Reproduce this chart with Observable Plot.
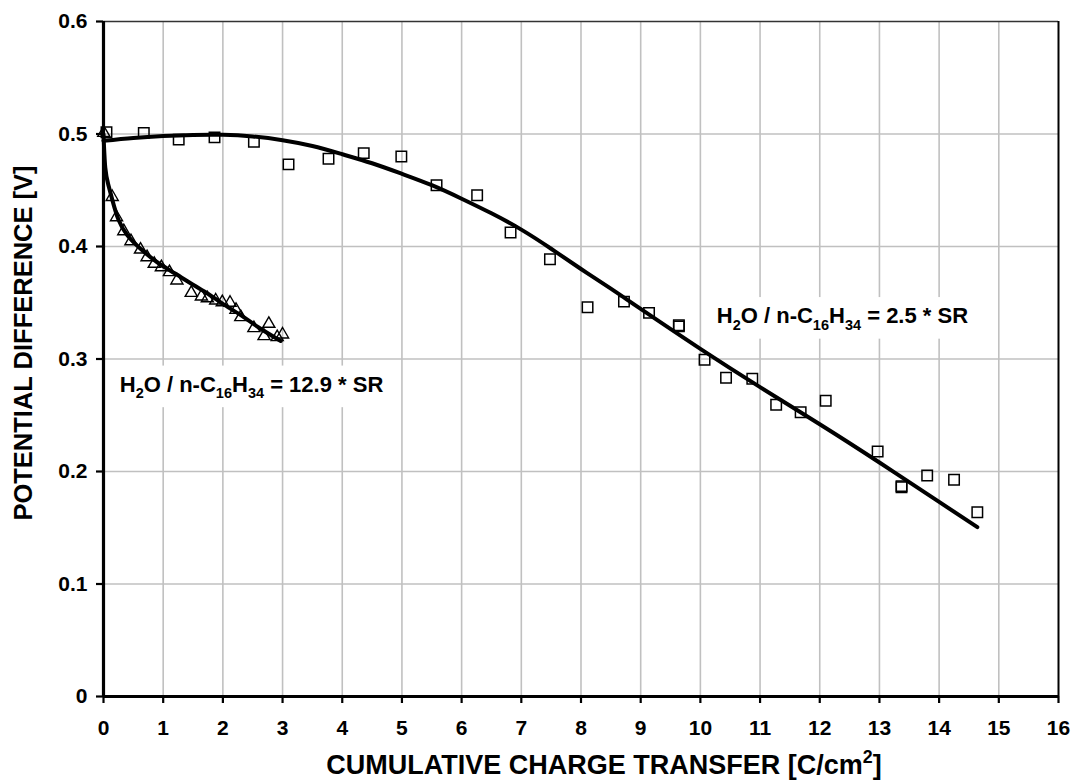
<!DOCTYPE html>
<html>
<head>
<meta charset="utf-8">
<script src="https://cdn.jsdelivr.net/npm/d3@7"></script>
<script src="https://cdn.jsdelivr.net/npm/@observablehq/plot@0.6"></script>
<style>
  html, body { margin: 0; padding: 0; background: #fff; }
</style>
</head>
<body>
<div id="chart"></div>
<script>
// ---- Data ----
// Series 1: H2O / n-C16H34 = 2.5 * SR (squares)
const sqX = [0.05, 0.675, 1.26, 1.86, 2.52, 3.10, 3.77, 4.36, 4.99, 5.58, 6.26, 6.82, 7.48, 8.11, 8.72, 9.14, 9.64, 9.64, 10.07, 10.43, 10.87, 11.27, 11.68, 12.10, 12.97, 13.37, 13.37, 13.80, 14.25, 14.64];
const sqY = [0.5016, 0.501, 0.495, 0.497, 0.493, 0.473, 0.478, 0.483, 0.480, 0.4545, 0.4456, 0.4124, 0.3887, 0.346, 0.351, 0.341, 0.329, 0.330, 0.2993, 0.2833, 0.2824, 0.2593, 0.2527, 0.2628, 0.2178, 0.186, 0.187, 0.1964, 0.1926, 0.1638];
// Fitted curve for series 1
const sqFitX = [0, 0.5, 1, 1.5, 2, 2.5, 3, 3.5, 4, 4.5, 5, 5.5, 6, 6.5, 7, 7.5, 8, 8.5, 9, 10, 11, 12, 13, 14, 14.64];
const sqFitY = [0.494, 0.4965, 0.4982, 0.4992, 0.4993, 0.4978, 0.4945, 0.4893, 0.4820, 0.4740, 0.4646, 0.4545, 0.4425, 0.4295, 0.4150, 0.3980, 0.3800, 0.3625, 0.3445, 0.3090, 0.2750, 0.2420, 0.2080, 0.1730, 0.1505];

// Series 2: H2O / n-C16H34 = 12.9 * SR (triangles)
const triX = [0.005, 0.146, 0.218, 0.34, 0.46, 0.62, 0.73, 0.85, 0.97, 1.105, 1.23, 1.47, 1.64, 1.74, 1.88, 1.99, 2.12, 2.22, 2.30, 2.52, 2.77, 2.69, 2.91, 3.0];
const triY = [0.501, 0.444, 0.426, 0.4136, 0.4047, 0.3973, 0.3905, 0.3846, 0.3816, 0.3772, 0.3698, 0.3588, 0.3556, 0.354, 0.352, 0.3505, 0.350, 0.3437, 0.3372, 0.3274, 0.3313, 0.3203, 0.3194, 0.3218];
// Fitted curve for series 2
const triFitX = [0, 0.03, 0.08, 0.15, 0.25, 0.4, 0.62, 0.9, 1.2, 1.5, 1.75, 2.0, 2.3, 2.6, 2.97];
const triFitY = [0.500, 0.470, 0.455, 0.441, 0.424, 0.410, 0.398, 0.386, 0.376, 0.366, 0.358, 0.349, 0.339, 0.328, 0.316];

// Tick values
const xTicks = d3.range(0, 17, 1);
const yTicks = [0, 0.1, 0.2, 0.3, 0.4, 0.5, 0.6];
const yTickLabels = ["0", "0.1", "0.2", "0.3", "0.4", "0.5", "0.6"];

// Annotations (data coordinates) and axis titles
const annotations = [
  {x: 2.48, y: 0.2773, label: "H_{2}O / n-C_{16}H_{34} = 12.9 * SR"},
  {x: 12.38, y: 0.3382, label: "H_{2}O / n-C_{16}H_{34} = 2.5 * SR"}
];
const xTitle = "CUMULATIVE CHARGE TRANSFER [C/cm^{2}]";
const yTitle = "POTENTIAL DIFFERENCE [V]";

// ---- Build tables ----
const squares = sqX.map((x, i) => ({x, y: sqY[i]}));
const sqFit = sqFitX.map((x, i) => ({x, y: sqFitY[i]}));
const triangles = triX.map((x, i) => ({x, y: triY[i]}));
const triFit = triFitX.map((x, i) => ({x, y: triFitY[i]}));

const FONT = "'Liberation Sans', Arial, Helvetica, sans-serif";

const chart = Plot.plot({
  width: 1072,
  height: 781,
  marginLeft: 103,
  marginRight: 14,
  marginTop: 21,
  marginBottom: 85,
  style: {fontFamily: FONT, fontWeight: "bold", fontSize: "21px", background: "#fff", color: "#000"},
  x: {domain: [0, 16], label: null},
  y: {domain: [0, 0.6], label: null},
  marks: [
    Plot.gridX(xTicks.filter(d => d > 0 && d < 16), {stroke: "#c0c0c0", strokeOpacity: 1, strokeWidth: 1.6}),
    Plot.gridY(yTicks.filter(d => d > 0 && d < 0.6), {stroke: "#c0c0c0", strokeOpacity: 1, strokeWidth: 1.6}),
    Plot.ruleY([0.6], {stroke: "#333", strokeWidth: 1.6}),
    Plot.ruleX([16], {stroke: "#000", strokeWidth: 2}),
    Plot.text(annotations, {x: "x", y: "y", text: "label", textAnchor: "middle", lineAnchor: "middle",
      fontSize: 22, fontWeight: "bold", fill: "#000", className: "rich boxed"}),
    Plot.axisX(xTicks, {tickSize: 7, tickPadding: 17, strokeWidth: 2.2, fontSize: 21, fontWeight: "bold", label: null}),
    Plot.axisY(yTicks, {tickSize: 7, tickPadding: 9, strokeWidth: 2.2, fontSize: 21, fontWeight: "bold",
      tickFormat: d => yTickLabels[yTicks.indexOf(d)], label: null}),
    Plot.ruleY([0], {stroke: "#000", strokeWidth: 3.2}),
    Plot.ruleX([0], {stroke: "#000", strokeWidth: 3.2}),
    Plot.line(sqFit, {x: "x", y: "y", curve: "natural", stroke: "#000", strokeWidth: 4}),
    Plot.line(triFit, {x: "x", y: "y", curve: "natural", stroke: "#000", strokeWidth: 4}),
    Plot.dot(squares, {x: "x", y: "y", symbol: "square", r: 5.9, fill: "none", stroke: "#000", strokeWidth: 1.5}),
    Plot.dot(triangles, {x: "x", y: "y", symbol: "triangle", r: 4.5, fill: "none", stroke: "#000", strokeWidth: 1.4}),
    Plot.text([xTitle], {frameAnchor: "bottom", dy: 69, dx: 23, textAnchor: "middle", lineAnchor: "middle",
      fontSize: 27, fontWeight: "bold", fill: "#000", className: "rich"}),
    Plot.text([yTitle], {frameAnchor: "left", dx: -80, dy: -16, rotate: -90, textAnchor: "middle", lineAnchor: "middle",
      fontSize: 25.5, fontWeight: "bold", fill: "#000"})
  ]
});

document.getElementById("chart").appendChild(chart);

// Convert "_{..}" / "^{..}" markup into real sub/superscript tspans (px offsets)
function richify(textEl) {
  const str = textEl.textContent;
  if (!/[_^]\{/.test(str)) return;
  const fs = parseFloat(getComputedStyle(textEl).fontSize);
  while (textEl.firstChild) textEl.removeChild(textEl.firstChild);
  const parts = str.split(/([_^]\{[^}]*\})/).filter(s => s.length);
  let shift = 0;
  const ns = "http://www.w3.org/2000/svg";
  for (const p of parts) {
    const t = document.createElementNS(ns, "tspan");
    let target = 0, content = p;
    if (p.startsWith("_{")) { target = 0.30 * fs; content = p.slice(2, -1); t.setAttribute("font-size", (0.66 * fs) + "px"); }
    else if (p.startsWith("^{")) { target = -0.42 * fs; content = p.slice(2, -1); t.setAttribute("font-size", (0.66 * fs) + "px"); }
    const d = target - shift;
    if (d !== 0) t.setAttribute("dy", d + "px");
    t.textContent = content;
    textEl.appendChild(t);
    shift = target;
  }
}
d3.select(chart).selectAll("g.rich text").each(function () { richify(this); });

// White label boxes behind annotations (sized from the rendered text)
d3.select(chart).selectAll("g.boxed text").each(function () {
  const bb = this.getBBox();
  const padX = 12, padY = 6;
  const rect = document.createElementNS("http://www.w3.org/2000/svg", "rect");
  rect.setAttribute("x", bb.x - padX);
  rect.setAttribute("y", bb.y - padY);
  rect.setAttribute("width", bb.width + 2 * padX);
  rect.setAttribute("height", bb.height + 2 * padY);
  rect.setAttribute("fill", "#fff");
  const tr = this.getAttribute("transform");
  if (tr) rect.setAttribute("transform", tr);
  this.parentNode.insertBefore(rect, this);
});
</script>
</body>
</html>
